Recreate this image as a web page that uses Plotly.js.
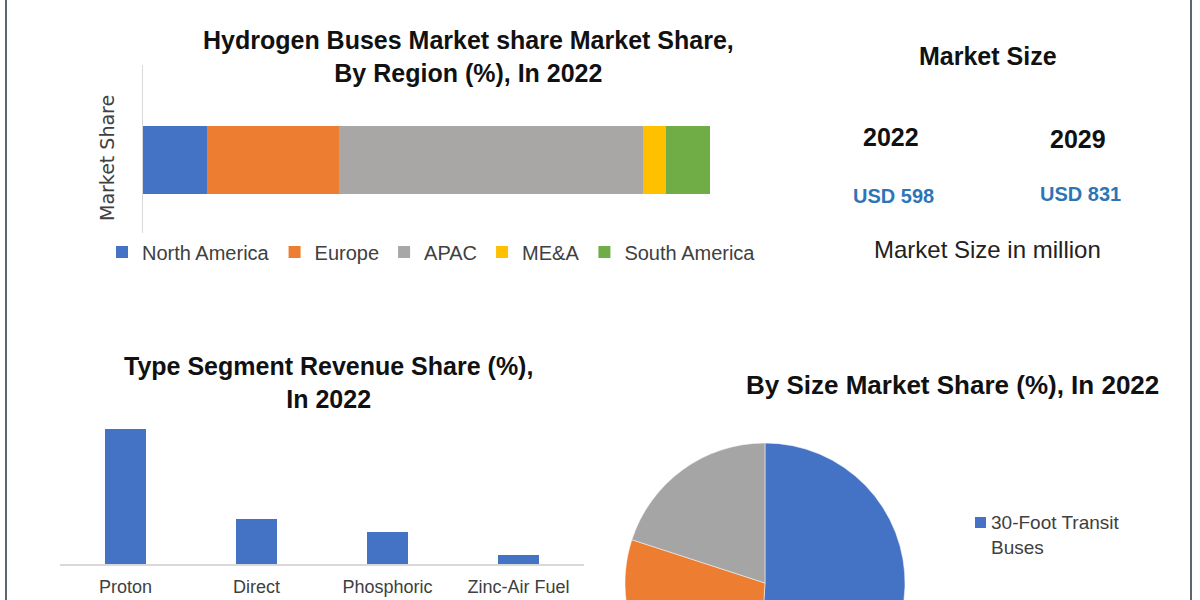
<!DOCTYPE html>
<html>
<head>
<meta charset="utf-8">
<script src="https://cdn.plot.ly/plotly-3.0.1.min.js"></script>
<style>
  html, body { margin: 0; padding: 0; overflow: hidden; background: #fff; }
  #chart { width: 1200px; height: 760px; }
</style>
</head>
<body>
<div id="chart"></div>
<script>
// region split of the stacked bar (%)
var regions = ['North America', 'Europe', 'APAC', 'ME&A', 'South America'];
var regionShare = [11.3, 23.2, 53.6, 4.1, 7.8];
var regionColors = ['#4472C4', '#ED7D31', '#A9A6A6', '#FFC000', '#70AD47'];

// type segment bars
var types = ['Proton', 'Direct', 'Phosphoric', 'Zinc-Air Fuel'];
var typeShare = [56.2, 18.7, 13.4, 3.8];

// size pie
var sizes = ['30-Foot Transit Buses', '40-Foot Transit Buses', '60-Foot Transit Buses'];
var sizeShare = [51, 29, 20];
var sizeColors = ['#4472C4', '#ED7D31', '#A5A5A5'];

// market size box
var marketYears = ['2022', '2029'];
var marketSize = [598, 831];

var W = 1200, H = 760;
function px(x) { return x / W; }
function py(y) { return 1 - y / H; }

var titleFont = {family: 'Liberation Sans Narrow, Liberation Sans, sans-serif', size: 25, color: '#111', weight: 700};
var bodyFont = 'Liberation Sans, Arial, sans-serif';

var data = [];
regions.forEach(function (r, i) {
  data.push({
    type: 'bar',
    orientation: 'h',
    name: r,
    x: [regionShare[i]],
    y: ['Share'],
    marker: {color: regionColors[i]},
    xaxis: 'x',
    yaxis: 'y',
    hoverinfo: 'name+x'
  });
});

data.push({
  type: 'bar',
  x: types,
  y: typeShare,
  width: 0.32,
  marker: {color: '#4472C4'},
  xaxis: 'x2',
  yaxis: 'y2',
  showlegend: false
});

data.push({
  type: 'pie',
  labels: sizes,
  values: sizeShare,
  sort: false,
  direction: 'clockwise',
  marker: {colors: sizeColors, line: {color: '#fff', width: 0.5}},
  textinfo: 'none',
  domain: {x: [px(625), px(905)], y: [py(723), py(443)]},
  showlegend: false
});

var ann = [];
function txt(t, x, y, size, opts) {
  var a = {
    text: t, x: px(x), y: py(y), xref: 'paper', yref: 'paper',
    xanchor: 'center', yanchor: 'middle', showarrow: false,
    font: {family: bodyFont, size: size, color: '#222'}
  };
  for (var k in opts) a[k] = opts[k];
  ann.push(a);
}

txt('Hydrogen Buses Market share Market Share,<br>By Region (%), In 2022', 468, 57, 25, {font: titleFont});
txt('Type Segment Revenue Share (%),<br>In 2022', 328, 382, 25, {font: titleFont});
txt('By Size Market Share (%), In 2022', 952, 385, 26, {font: Object.assign({}, titleFont, {size: 26})});
txt('Market Share', 107, 158, 19, {textangle: -90, font: {family: 'DejaVu Sans, sans-serif', size: 19, color: '#404040'}});

txt('Market Size', 988, 56, 25, {font: {family: bodyFont, size: 25, color: '#111', weight: 700}});
var yearX = [891, 1078], yearY = [137, 139], usdY = [196, 194];
marketYears.forEach(function (yr, i) {
  txt(yr, yearX[i], yearY[i], 25, {font: {family: bodyFont, size: 25, color: '#111', weight: 700}});
  txt('USD ' + marketSize[i], yearX[i] + 2, usdY[i], 20, {font: {family: bodyFont, size: 20, color: '#2E75B6', weight: 700}});
});
txt('Market Size in million', 987, 249, 24, {font: {family: bodyFont, size: 24, color: '#222'}});

// pie legend entry (only the first one is in view)
txt('30-Foot Transit<br>Buses', 989, 535, 19, {xanchor: 'left', align: 'left', font: {family: bodyFont, size: 19, color: '#404040'}});

var layout = {
  width: W,
  height: H,
  margin: {l: 0, r: 0, t: 0, b: 0},
  paper_bgcolor: '#fff',
  plot_bgcolor: 'rgba(0,0,0,0)',
  barmode: 'stack',
  showlegend: true,
  xaxis: {
    domain: [px(143), px(710)], range: [0, 100],
    showgrid: false, zeroline: false, showticklabels: false, showline: false, fixedrange: true
  },
  yaxis: {
    domain: [py(233), py(65)], range: [-0.385, 0.5],
    showgrid: false, zeroline: false, showticklabels: false,
    showline: true, linecolor: '#D9D9D9', linewidth: 1.5, fixedrange: true
  },
  xaxis2: {
    domain: [px(60), px(584)], anchor: 'y2',
    showgrid: false, zeroline: false, showline: true, linecolor: '#D9D9D9', linewidth: 1.5,
    ticks: '', ticklabelstandoff: 6,
    tickfont: {family: bodyFont, size: 18, color: '#404040'}
  },
  yaxis2: {
    domain: [py(564), py(420)], range: [0, 60], anchor: 'x2', visible: false
  },
  bargap: 0.642,
  legend: {
    orientation: 'h', x: px(102), y: py(252), xanchor: 'left', yanchor: 'middle',
    font: {family: bodyFont, size: 20, color: '#404040'}, bgcolor: 'rgba(0,0,0,0)', traceorder: 'normal'
  },
  annotations: ann,
  shapes: [
    {type: 'line', xref: 'paper', yref: 'paper', x0: px(6), x1: px(6), y0: 0, y1: 1, line: {color: '#5B6670', width: 2}},
    {type: 'line', xref: 'paper', yref: 'paper', x0: px(1191), x1: px(1191), y0: 0, y1: 1, line: {color: '#5B6670', width: 2}},
    {type: 'rect', xref: 'paper', yref: 'paper', x0: px(975), x1: px(986), y0: py(528), y1: py(517), line: {width: 0}, fillcolor: sizeColors[0]}
  ]
};

Plotly.newPlot('chart', data, layout, {displayModeBar: false, staticPlot: true});
</script>
</body>
</html>
